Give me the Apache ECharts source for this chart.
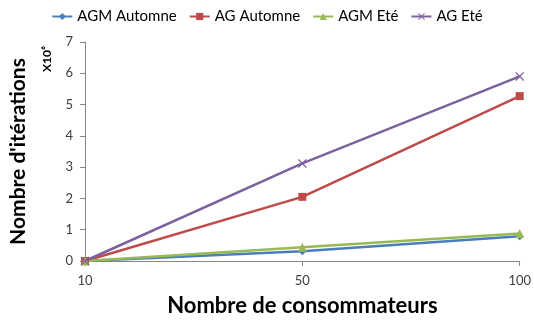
<!DOCTYPE html>
<html>
<head>
<meta charset="utf-8">
<script src="https://cdn.jsdelivr.net/npm/echarts@6/dist/echarts.min.js"></script>
<style>
  html, body { margin: 0; padding: 0; background: #fff; }
  #chart { width: 534px; height: 322px; }
</style>
</head>
<body>
<div id="chart"></div>
<script>
// Number of consumers (x categories)
const consumers = ['10', '50', '100'];
// Iterations, in millions
const agmAutomne = [0, 0.31, 0.79];
const agAutomne = [0, 2.05, 5.27];
const agmEte = [0, 0.44, 0.88];
const agEte = [0, 3.12, 5.9];
const yTicks = [0, 1, 2, 3, 4, 5, 6, 7];

const FONT = 'Lato, "Open Sans", sans-serif';
const crossPath = 'path://M0,1L1,0L5,4L9,0L10,1L6,5L10,9L9,10L5,6L1,10L0,9L4,5Z';

function series(name, data, color, symbol, size) {
  return {
    name, type: 'line', data,
    symbol, symbolSize: size,
    lineStyle: { color, width: 2.5 },
    itemStyle: { color },
    emphasis: { disabled: true },
    animation: false
  };
}

const chart = echarts.init(document.getElementById('chart'));
chart.setOption({
  animation: false,
  color: ['#4a7ebb', '#be4b48', '#98b954', '#7d60a0'],
  legend: {
    top: 4, left: 'center',
    itemWidth: 20, itemHeight: 9, itemGap: 12,
    textStyle: { fontFamily: FONT, fontSize: 15, color: '#000' },
    data: ['AGM Automne', 'AG Automne', 'AGM Eté', 'AG Eté']
  },
  grid: { left: 83, right: 14, top: 42, bottom: 58 },
  xAxis: {
    type: 'category', data: consumers, boundaryGap: false,
    axisLine: { lineStyle: { color: '#868686', width: 1 } },
    axisTick: { alignWithLabel: true, length: 5, lineStyle: { color: '#868686' } },
    axisLabel: { fontFamily: FONT, fontSize: 13, color: '#404040', margin: 13 },
    name: 'Nombre de consommateurs', nameLocation: 'middle', nameGap: 34,
    nameTextStyle: { fontFamily: FONT, fontSize: 22, fontWeight: 'bold', color: '#000' }
  },
  yAxis: {
    type: 'value', min: yTicks[0], max: yTicks[yTicks.length - 1], interval: 1,
    axisLine: { show: true, lineStyle: { color: '#868686', width: 1 } },
    axisTick: { show: true, length: 5, lineStyle: { color: '#868686' } },
    axisLabel: { fontFamily: FONT, fontSize: 13, color: '#404040', margin: 12 },
    splitLine: { show: false },
    name: "Nombre d'itérations", nameLocation: 'middle', nameGap: 56, nameRotate: 90,
    nameTextStyle: { fontFamily: FONT, fontSize: 21, fontWeight: 'bold', color: '#000' }
  },
  graphic: [{
    type: 'text', left: 41, top: 46, rotation: Math.PI / 2,
    style: { text: 'X10⁶', fontFamily: FONT, fontSize: 12, fontWeight: 'bold', fill: '#000' }
  }],
  series: [
    series('AGM Automne', agmAutomne, '#4a7ebb', 'diamond', 8),
    series('AG Automne', agAutomne, '#be4b48', 'rect', 8),
    series('AGM Eté', agmEte, '#98b954', 'triangle', 9),
    series('AG Eté', agEte, '#7d60a0', crossPath, 9)
  ]
});
</script>
</body>
</html>
